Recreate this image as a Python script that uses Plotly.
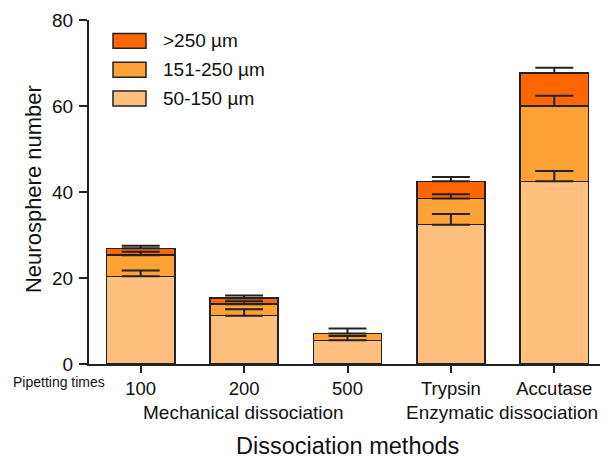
import plotly.graph_objects as go

categories = ["100", "200", "500", "Trypsin", "Accutase"]
series_names = ["50-150 µm", "151-250 µm", ">250 µm"]
small_vals = [20.4, 11.25, 5.5, 32.4, 42.5]
small_err = [1.35, 1.5, 1.0, 2.5, 2.4]
mid_vals = [4.9, 2.65, 1.6, 6.1, 17.5]
mid_err = [0.8, 0.7, 1.15, 1.0, 2.4]
large_vals = [1.6, 1.4, 0.0, 4.0, 7.7]
large_err = [0.6, 0.65, 0.0, 1.0, 1.2]
y_ticks = [0, 20, 40, 60, 80]

colors = ["#FFC07F", "#FFA235", "#FF6600"]
edge = "#222222"
FONT = "Liberation Sans, Arial, sans-serif"
TXT = "#111111"

# page body has an 8px margin; the figure is sized to fill the rest of the window
OFF = 8
WIN_W, WIN_H = 608, 459
W, H = WIN_W - OFF, WIN_H - OFF
X0, X1, Y0, Y1 = 89, 606, 18, 364
ML, MR, MT, MB = X0 - OFF, WIN_W - X1, Y0 - OFF, WIN_H - Y1
PW, PH = X1 - X0, Y1 - Y0


def px(x):
    return (x - X0) / PW


def py(y):
    return (Y1 - y) / PH


fig = go.Figure()
vals = [small_vals, mid_vals, large_vals]
errs = [small_err, mid_err, large_err]
for name, v, c in zip(series_names, vals, colors):
    fig.add_trace(go.Bar(x=categories, y=v, name=name, width=0.66,
                         marker=dict(color=c, line=dict(color=edge, width=1.5)),
                         showlegend=False))

cum = [0.0] * len(categories)
for v, e in zip(vals, errs):
    cum = [a + b for a, b in zip(cum, v)]
    ys = [cv if ev > 0 else None for cv, ev in zip(cum, e)]
    fig.add_trace(go.Scatter(x=categories, y=ys, mode="markers",
                             marker=dict(size=1, opacity=0),
                             error_y=dict(type="data", array=e, symmetric=False,
                                          arrayminus=[0] * len(e), color=edge,
                                          thickness=2, width=19),
                             showlegend=False, hoverinfo="skip"))

shapes = []
annotations = []
legend_rows = [(">250 µm", colors[2], 39), ("151-250 µm", colors[1], 68), ("50-150 µm", colors[0], 97)]
for label, c, yc in legend_rows:
    shapes.append(dict(type="rect", xref="paper", yref="paper",
                       x0=px(113), x1=px(146), y0=py(yc + 7.5), y1=py(yc - 7.5),
                       fillcolor=c, line=dict(color=edge, width=1.5)))
    annotations.append(dict(xref="paper", yref="paper", x=px(161), y=py(yc),
                            xanchor="left", yanchor="middle", showarrow=False,
                            text=label, font=dict(family=FONT, size=19, color=TXT)))

annotations += [
    dict(xref="paper", yref="paper", x=px(59), y=py(382), text="Pipetting times",
         showarrow=False, xanchor="center", yanchor="middle",
         font=dict(family=FONT, size=14, color=TXT)),
    dict(xref="paper", yref="paper", x=px(243), y=py(413), text="Mechanical dissociation",
         showarrow=False, xanchor="center", yanchor="middle",
         font=dict(family=FONT, size=19, color=TXT)),
    dict(xref="paper", yref="paper", x=px(502), y=py(413), text="Enzymatic dissociation",
         showarrow=False, xanchor="center", yanchor="middle",
         font=dict(family=FONT, size=19, color=TXT)),
    dict(xref="paper", yref="paper", x=px(347), y=py(446), text="Dissociation methods",
         showarrow=False, xanchor="center", yanchor="middle",
         font=dict(family=FONT, size=23.5, color=TXT)),
    dict(xref="paper", yref="paper", x=px(33), y=py(188), text="Neurosphere number",
         showarrow=False, xanchor="center", yanchor="middle", textangle=-90,
         font=dict(family=FONT, size=22, color=TXT)),
]

fig.update_layout(
    width=W, height=H, barmode="stack",
    margin=dict(l=ML, r=MR, t=MT, b=MB, pad=0),
    paper_bgcolor="white", plot_bgcolor="white",
    shapes=shapes, annotations=annotations,
    font=dict(family=FONT, color=TXT),
)
fig.update_xaxes(type="category", range=[-0.5, 4.5], showline=True, linecolor=edge,
                 linewidth=2, ticks="outside", ticklen=7, tickwidth=2, tickcolor=edge,
                 tickfont=dict(family=FONT, size=18.5, color=TXT), showgrid=False,
                 zeroline=False)
fig.update_yaxes(range=[0, 80], tickvals=y_ticks, showline=True,
                 linecolor=edge, linewidth=2, ticks="outside", ticklen=8, tickwidth=2,
                 tickcolor=edge, tickfont=dict(family=FONT, size=19, color=TXT),
                 showgrid=False, zeroline=False, ticklabelstandoff=2,
                 ticklabeloverflow="allow")

fig.write_html("out.html")
